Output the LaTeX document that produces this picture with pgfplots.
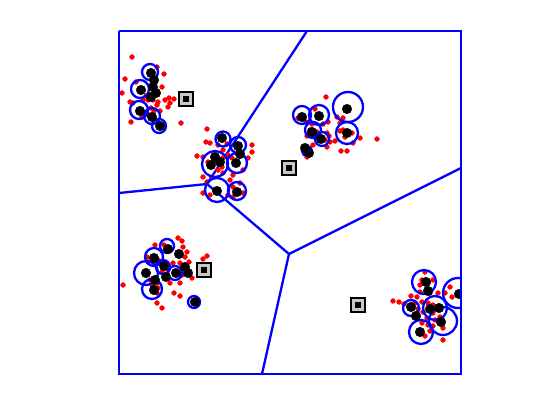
\documentclass[border=0pt]{standalone}
\usepackage{pgfplots}
\usepackage{pgfplotstable}
\pgfplotsset{compat=1.18}
\pgfplotstableread{
x y r
150 72 8
140 89 9
139 110 9
152 116 8
159 126 7
223 139 7.5
238 145 8
215 164 13
237 163 10
217 190 12
237 191 9
302 115 9
319 115 10
348 107 15
313 130 8
322 139 7
347 133 11
307 151 5
167 246 7
154 257 9
163 267 7
146 273 12
175 273 7
152 289 10
194 302 6
424 282 12
458 293 15
411 308 8
435 308 12
443 321 14
421 332 12
}\circles
\pgfplotstableread{
x y
151 73
154 80
153 87
156 93
151 97
141 90
140 111
152 117
160 126
222 138
238 146
240 154
215 157
236 163
211 165
220 162
217 191
237 192
302 117
319 116
347 109
312 132
321 139
347 133
305 148
309 153
168 249
179 254
154 258
164 266
146 273
176 273
166 277
155 280
185 267
188 273
154 290
195 302
426 282
428 291
459 294
411 307
416 316
430 309
439 308
441 322
420 332
}\blacks
\pgfplotstableread{
x y
132 57
157 67
164 74
125 79
136 82
122 93
162 87
130 102
133 103
143 100
148 100
153 100
158 102
165 100
169 98
174 99
170 103
168 107
151 108
154 111
160 111
145 113
149 115
131 122
142 117
163 125
181 123
146 96
157 105
207 129
206 142
210 143
218 145
227 144
223 150
252 145
252 152
197 156
203 157
208 162
220 160
223 158
228 155
232 158
222 167
218 170
223 173
248 158
243 170
212 177
203 177
207 182
233 175
230 180
240 183
233 187
238 192
243 193
203 193
228 195
210 195
233 197
326 97
298 118
306 122
312 124
315 109
323 124
328 122
337 117
343 118
340 123
310 130
317 132
307 136
315 137
327 133
329 136
325 140
330 142
335 141
327 147
340 131
343 130
345 137
352 133
360 138
353 143
377 139
341 151
347 151
307 157
313 145
178 238
182 241
183 247
187 252
185 257
155 245
164 245
147 257
158 260
148 262
157 263
173 263
180 263
189 262
203 259
207 256
162 272
168 270
182 275
192 278
150 280
157 283
170 283
180 283
123 285
152 285
158 288
157 293
174 293
180 296
157 303
162 308
425 272
422 280
428 283
433 280
420 285
430 293
438 293
445 293
450 287
452 297
393 301
399 302
404 304
411 296
417 297
420 292
415 303
422 302
428 303
433 305
418 309
423 312
433 313
440 317
427 318
435 320
422 323
428 325
433 326
443 328
430 331
425 336
443 340
}\reds
\pgfplotstableread{
x y
186 99
289 168
204 270
358 305
}\squares
\begin{document}
\begin{tikzpicture}
\path[use as bounding box] (-119pt,-46pt) rectangle (441pt,374pt);
\begin{axis}[at={(0pt,0pt)}, anchor=south west, scale only axis,
  width=342pt, height=343pt, xmin=119, xmax=461, ymin=31, ymax=374,
  y dir=reverse, hide axis, clip mode=global, clip marker paths=true]
\addplot[blue, line width=2.3pt, no marks] coordinates {(119,193) (207,184) (307,31)};
\addplot[blue, line width=2.3pt, no marks] coordinates {(207,184) (289,254) (461,168)};
\addplot[blue, line width=2.3pt, no marks] coordinates {(289,254) (262,374)};
\addplot[only marks, mark=*, mark size=2.4pt, red, mark options={draw=red, fill=red}] table {\reds};
\addplot[only marks, scatter, mark=o, blue,
  visualization depends on={\thisrow{r} \as \rad},
  scatter/use mapped color={draw=blue},
  mark options={line width=2.3pt},
  scatter/@pre marker code/.append style={/tikz/mark size=\rad pt, /tikz/line width=2.3pt}] table {\circles};
\addplot[only marks, mark=*, mark size=4.8pt, black, mark options={draw=black, fill=black}] table {\blacks};
\addplot[only marks, mark=square*, mark size=7pt, mark options={draw=black, fill=black!22, line width=1.5pt}] table {\squares};
\addplot[only marks, mark=square*, mark size=2.5pt, mark options={draw=black, fill=black, line width=0.5pt}] table {\squares};
\end{axis}
\begin{axis}[at={(0pt,0pt)}, anchor=south west, scale only axis,
  width=342pt, height=343pt, xmin=119, xmax=461, ymin=31, ymax=374,
  y dir=reverse, hide axis, clip=false]
\addplot[blue, line width=2.3pt, no marks] coordinates {(119,31) (461,31) (461,374) (119,374) (119,31)};
\end{axis}
\end{tikzpicture}
\end{document}
